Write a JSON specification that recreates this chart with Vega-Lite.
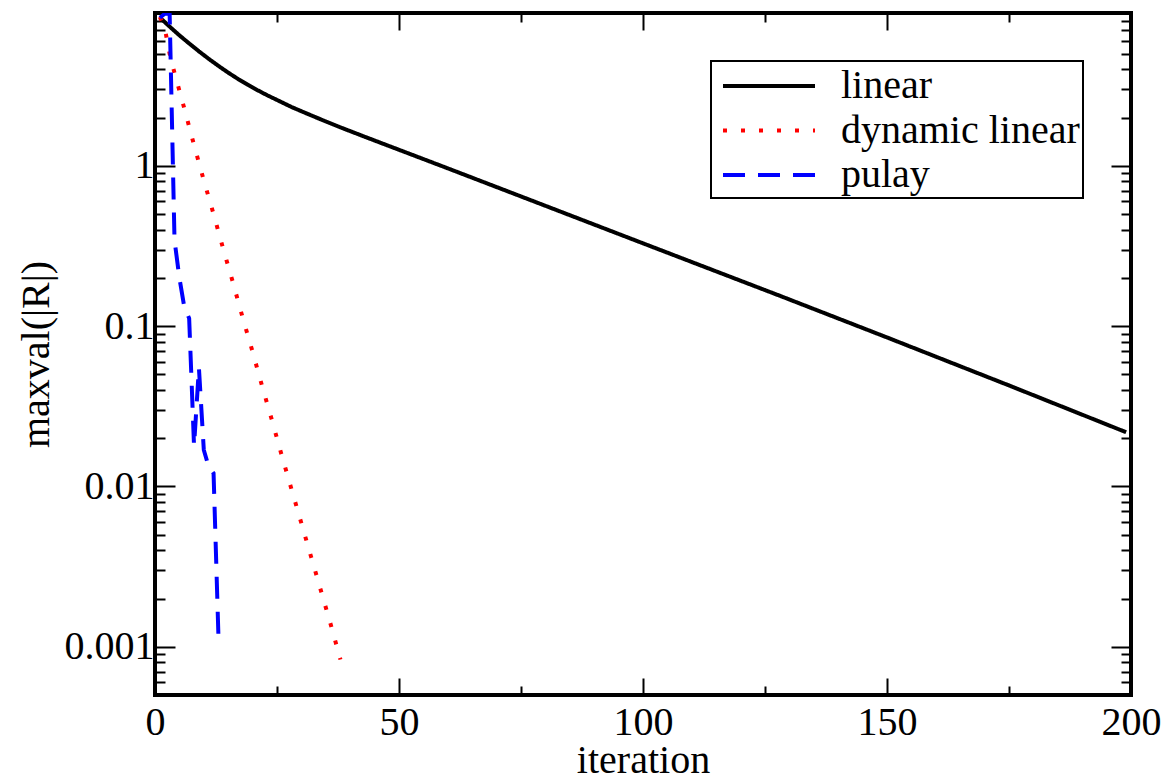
{
  "$schema": "https://vega.github.io/schema/vega-lite/v6.json",
  "width": 976,
  "height": 682,
  "autosize": "none",
  "padding": {"left": 155, "top": 13, "right": 43, "bottom": 83},
  "background": "white",
  "config": {
    "font": "Liberation Serif",
    "view": {"stroke": "black", "strokeWidth": 4},
    "axis": {"grid": false, "domain": false, "tickColor": "black", "tickWidth": 2, "labelColor": "black", "titleColor": "black", "labelFont": "Liberation Serif", "titleFont": "Liberation Serif", "labelFontSize": 40, "titleFontSize": 40, "titleFontWeight": "normal"}
  },
  "data": {
    "values": [
      {"series": "linear", "iteration": 1, "value": 8.43},
      {"series": "linear", "iteration": 3, "value": 7.4},
      {"series": "linear", "iteration": 5, "value": 6.53},
      {"series": "linear", "iteration": 7, "value": 5.81},
      {"series": "linear", "iteration": 9, "value": 5.19},
      {"series": "linear", "iteration": 11, "value": 4.66},
      {"series": "linear", "iteration": 13, "value": 4.21},
      {"series": "linear", "iteration": 15, "value": 3.82},
      {"series": "linear", "iteration": 17, "value": 3.49},
      {"series": "linear", "iteration": 19, "value": 3.21},
      {"series": "linear", "iteration": 21, "value": 2.97},
      {"series": "linear", "iteration": 23, "value": 2.76},
      {"series": "linear", "iteration": 25, "value": 2.58},
      {"series": "linear", "iteration": 28, "value": 2.33},
      {"series": "linear", "iteration": 31, "value": 2.13},
      {"series": "linear", "iteration": 34, "value": 1.95},
      {"series": "linear", "iteration": 38, "value": 1.74},
      {"series": "linear", "iteration": 43, "value": 1.52},
      {"series": "linear", "iteration": 48, "value": 1.33},
      {"series": "linear", "iteration": 60, "value": 0.966},
      {"series": "linear", "iteration": 80, "value": 0.564},
      {"series": "linear", "iteration": 100, "value": 0.329},
      {"series": "linear", "iteration": 128, "value": 0.155},
      {"series": "linear", "iteration": 150, "value": 0.0851},
      {"series": "linear", "iteration": 175, "value": 0.0427},
      {"series": "linear", "iteration": 199, "value": 0.0218},
      {"series": "dynamic linear", "iteration": 1, "value": 8.51},
      {"series": "dynamic linear", "iteration": 2, "value": 7.24},
      {"series": "dynamic linear", "iteration": 3, "value": 5.01},
      {"series": "dynamic linear", "iteration": 4, "value": 3.8},
      {"series": "dynamic linear", "iteration": 6, "value": 2.29},
      {"series": "dynamic linear", "iteration": 8, "value": 1.35},
      {"series": "dynamic linear", "iteration": 10, "value": 0.813},
      {"series": "dynamic linear", "iteration": 12, "value": 0.501},
      {"series": "dynamic linear", "iteration": 14, "value": 0.302},
      {"series": "dynamic linear", "iteration": 16, "value": 0.186},
      {"series": "dynamic linear", "iteration": 18, "value": 0.112},
      {"series": "dynamic linear", "iteration": 20, "value": 0.0692},
      {"series": "dynamic linear", "iteration": 22, "value": 0.0417},
      {"series": "dynamic linear", "iteration": 24, "value": 0.0257},
      {"series": "dynamic linear", "iteration": 26, "value": 0.0155},
      {"series": "dynamic linear", "iteration": 28, "value": 0.00955},
      {"series": "dynamic linear", "iteration": 30, "value": 0.00589},
      {"series": "dynamic linear", "iteration": 32, "value": 0.00363},
      {"series": "dynamic linear", "iteration": 34, "value": 0.00224},
      {"series": "dynamic linear", "iteration": 36, "value": 0.00138},
      {"series": "dynamic linear", "iteration": 38, "value": 0.000832},
      {"series": "pulay", "iteration": 1, "value": 8.4},
      {"series": "pulay", "iteration": 2, "value": 8.9},
      {"series": "pulay", "iteration": 3, "value": 8.9},
      {"series": "pulay", "iteration": 4, "value": 0.344},
      {"series": "pulay", "iteration": 5, "value": 0.2},
      {"series": "pulay", "iteration": 6, "value": 0.132},
      {"series": "pulay", "iteration": 7, "value": 0.112},
      {"series": "pulay", "iteration": 8, "value": 0.0179},
      {"series": "pulay", "iteration": 9, "value": 0.055},
      {"series": "pulay", "iteration": 10, "value": 0.0169},
      {"series": "pulay", "iteration": 11, "value": 0.0133},
      {"series": "pulay", "iteration": 12, "value": 0.0121},
      {"series": "pulay", "iteration": 13, "value": 0.00116}
    ]
  },
  "resolve": {"axis": {"x": "independent", "y": "independent"}},
  "layer": [
    {
      "mark": {"type": "line", "strokeWidth": 4, "clip": true},
      "encoding": {
        "x": {"field": "iteration", "type": "quantitative", "scale": {"domain": [0, 200], "nice": false, "zero": false},
          "axis": {"orient": "bottom", "values": [0, 50, 100, 150, 200], "tickSize": -17, "labelPadding": 24, "labelBaseline": "top", "title": "iteration", "titleX": 488, "titleY": 77, "titleBaseline": "alphabetic", "titleAlign": "center", "labelFlush": false}},
        "y": {"field": "value", "type": "quantitative", "scale": {"type": "log", "domain": [0.0005, 9], "nice": false},
          "axis": {"orient": "left", "values": [0.001, 0.01, 0.1, 1], "tickSize": -20, "labelPadding": 21, "labelExpr": "toString(datum.value)", "title": "maxval(|R|)", "titleX": -107, "titleY": 341, "titleAngle": -90, "titleBaseline": "alphabetic", "titleAlign": "center", "labelFlush": false}},
        "color": {"field": "series", "type": "nominal",
          "scale": {"domain": ["linear", "dynamic linear", "pulay"], "range": ["#000000", "#ff0000", "#0000ff"]},
          "legend": {"orient": "none", "legendX": 556, "legendY": 48, "title": null, "strokeColor": "black", "fillColor": "white", "padding": 3, "symbolType": "M-2.3,0H2.3", "symbolSize": 1600, "symbolStrokeWidth": 4, "symbolOffset": 33, "labelFontSize": 40, "labelFont": "Liberation Serif", "labelColor": "black", "labelOffset": 50, "rowPadding": 2.5, "labelLimit": 400,
            "encode": {"legend": {"update": {"strokeWidth": {"value": 2}}}}}},
        "strokeDash": {"field": "series", "type": "nominal",
          "scale": {"domain": ["linear", "dynamic linear", "pulay"], "range": [[1, 0], [4, 14], [22, 13]]},
          "legend": null}
      }
    },
    {
      "mark": {"type": "line", "opacity": 0},
      "encoding": {
        "x": {"field": "iteration", "type": "quantitative", "axis": {"orient": "bottom", "values": [25, 75, 125, 175], "tickSize": -9, "labels": false, "title": null}},
        "y": {"field": "value", "type": "quantitative", "axis": {"orient": "left", "values": [0.0006, 0.0007, 0.0008, 0.0009, 0.002, 0.003, 0.004, 0.005, 0.006, 0.007, 0.008, 0.009, 0.02, 0.03, 0.04, 0.05, 0.06, 0.07, 0.08, 0.09, 0.2, 0.3, 0.4, 0.5, 0.6, 0.7, 0.8, 0.9, 2, 3, 4, 5, 6, 7, 8], "tickSize": -10, "labels": false, "title": null}},
        "detail": {"field": "series"}
      }
    },
    {
      "mark": {"type": "line", "opacity": 0},
      "encoding": {
        "x": {"field": "iteration", "type": "quantitative", "axis": {"orient": "top", "values": [0, 50, 100, 150, 200], "tickSize": -17, "labels": false, "title": null}},
        "y": {"field": "value", "type": "quantitative", "axis": {"orient": "right", "values": [0.001, 0.01, 0.1, 1], "tickSize": -20, "labels": false, "title": null}},
        "detail": {"field": "series"}
      }
    },
    {
      "mark": {"type": "line", "opacity": 0},
      "encoding": {
        "x": {"field": "iteration", "type": "quantitative", "axis": {"orient": "top", "values": [25, 75, 125, 175], "tickSize": -9, "labels": false, "title": null}},
        "y": {"field": "value", "type": "quantitative", "axis": {"orient": "right", "values": [0.0006, 0.0007, 0.0008, 0.0009, 0.002, 0.003, 0.004, 0.005, 0.006, 0.007, 0.008, 0.009, 0.02, 0.03, 0.04, 0.05, 0.06, 0.07, 0.08, 0.09, 0.2, 0.3, 0.4, 0.5, 0.6, 0.7, 0.8, 0.9, 2, 3, 4, 5, 6, 7, 8], "tickSize": -10, "labels": false, "title": null}},
        "detail": {"field": "series"}
      }
    }
  ]
}
